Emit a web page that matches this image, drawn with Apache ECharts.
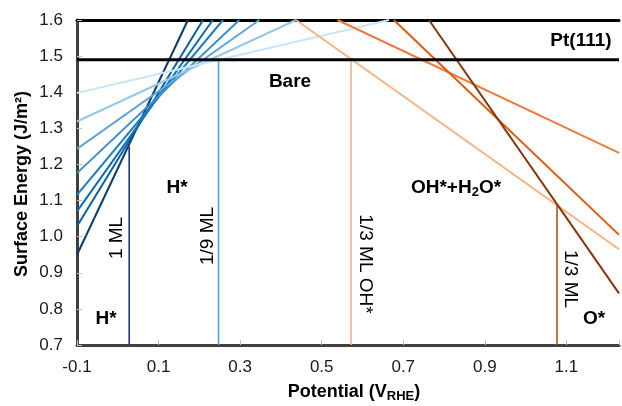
<!DOCTYPE html>
<html>
<head>
<meta charset="utf-8">
<script src="https://cdn.jsdelivr.net/npm/echarts@6/dist/echarts.min.js"></script>
<style>
  html, body { margin: 0; padding: 0; background: #fff; }
  #chart { width: 622px; height: 406px; }
</style>
</head>
<body>
<div id="chart"></div>
<script>
// axis range
const xMin = -0.1
const xMax = 1.229
const yMin = 0.7
const yMax = 1.6

// H* coverage lines: value at U = -0.1 and potential where they reach 1.6
const hCoverage = ['1', '7/9', '2/3', '5/9', '4/9', '1/3', '2/9', '1/9']
const hStartY = [0.950, 1.029, 1.070, 1.116, 1.176, 1.243, 1.319, 1.398]
const hEndX = [0.172, 0.209, 0.233, 0.258, 0.298, 0.347, 0.437, 0.665]

// oxygenated lines: potential where they leave 1.6 and value at the right edge
const oxyNames = ['1/3 ML OH*', 'OH* 2', 'OH* 3', '1/3 ML O*']
const oxyStartX = [0.437, 0.539, 0.677, 0.763]
const oxyEndY = [0.965, 1.232, 1.005, 0.843]

// bare Pt(111)
const bareEnergy = 1.49

// phase boundaries
const boundaryX = [0.028, 0.247, 0.572, 1.077]
const boundaryTopY = [1.25, 1.49, 1.49, 1.09]

const hColors = ['#0b3d6b', '#0a60a6', '#0b6db9', '#1b7dc5', '#3b8fcd', '#5fa6da', '#95c7ea', '#cae5f7']
const oxyColors = ['#fdb27e', '#ef7b3a', '#e7580c', '#8a3409']
const boundaryColors = ['#1f3a7a', '#44a7e5', '#f9b07a', '#b0501d']

const font = 'Liberation Sans, Arial, sans-serif'

const chart = echarts.init(document.getElementById('chart'))

const series = []

hCoverage.forEach((c, i) => {
  series.push({
    name: c + ' ML H*',
    type: 'line',
    symbol: 'none',
    silent: true,
    data: [[xMin, hStartY[i]], [hEndX[i], yMax]],
    lineStyle: { color: hColors[i], width: 2 },
    z: 3
  })
})

oxyNames.forEach((n, i) => {
  series.push({
    name: n,
    type: 'line',
    symbol: 'none',
    silent: true,
    data: [[oxyStartX[i], yMax], [xMax, oxyEndY[i]]],
    lineStyle: { color: oxyColors[i], width: 2 },
    z: 3
  })
})

boundaryX.forEach((x, i) => {
  series.push({
    type: 'line',
    symbol: 'none',
    silent: true,
    data: [[x, yMin], [x, boundaryTopY[i]]],
    lineStyle: { color: boundaryColors[i], width: 1.6 },
    z: 2
  })
})

series.push({
  name: 'Pt(111)',
  type: 'line',
  symbol: 'none',
  silent: true,
  clip: false,
  data: [[xMin, bareEnergy], [xMax, bareEnergy]],
  lineStyle: { color: '#000', width: 3 },
  z: 5
})

function txt(x, y, text, opts) {
  return Object.assign({
    type: 'text',
    x: x,
    y: y,
    z: 10,
    style: Object.assign({
      text: text,
      font: '17px ' + font,
      fill: '#000',
      textAlign: 'center',
      textVerticalAlign: 'middle'
    }, opts && opts.style)
  }, opts && opts.el)
}

const plain = '19px ' + font
const boldW = 'bold 19px ' + font
const subRich = {
  s: { fontSize: 13, fontWeight: 'bold', fontFamily: font, verticalAlign: 'bottom', lineHeight: 12 }
}

const option = {
  animation: false,
  backgroundColor: '#fff',
  grid: { left: 77, right: 0, top: 20, bottom: 61 },
  xAxis: [{
    type: 'value',
    min: xMin,
    max: xMax,
    interval: 0.2,
    axisLine: { onZero: false, lineStyle: { color: '#404040', width: 3 } },
    axisTick: { inside: true, length: 5, lineStyle: { color: '#bfbfbf', width: 1 } },
    axisLabel: {
      fontSize: 17,
      fontFamily: font,
      color: '#1a1a1a',
      margin: 14,
      formatter: v => {
        const k = (v - xMin) / 0.2
        return Math.abs(k - Math.round(k)) < 1e-6 ? v.toFixed(1) : ''
      }
    },
    splitLine: { show: false }
  }, {
    type: 'value',
    position: 'top',
    min: xMin,
    max: xMax,
    axisLine: { onZero: false, lineStyle: { color: '#000', width: 3 } },
    axisTick: { show: false },
    axisLabel: { show: false },
    splitLine: { show: false }
  }],
  yAxis: {
    type: 'value',
    min: yMin,
    max: yMax,
    interval: 0.1,
    axisLine: { show: true, onZero: false, lineStyle: { color: '#404040', width: 3 } },
    axisTick: { show: true, inside: true, length: 5, lineStyle: { color: '#bfbfbf', width: 1 } },
    axisLabel: {
      fontSize: 17,
      fontFamily: font,
      color: '#1a1a1a',
      margin: 14,
      formatter: v => v.toFixed(1)
    },
    splitLine: { show: false }
  },
  series: series,
  graphic: [
    // axis titles
    txt(22, 184, 'Surface Energy (J/m²)', { style: { font: 'bold 18px ' + font }, el: { rotation: Math.PI / 2 } }),
    txt(354, 392, 'Potential (V{s|RHE})', { style: { font: 'bold 18px ' + font, rich: subRich, lineHeight: 22 } }),
    // region labels
    txt(581, 41, 'Pt(111)', { style: { font: boldW } }),
    txt(290, 82, 'Bare', { style: { font: boldW } }),
    txt(177, 188, 'H*', { style: { font: boldW } }),
    txt(106, 319, 'H*', { style: { font: boldW } }),
    txt(456, 188, 'OH*+H{s|2}O*', { style: { font: boldW, rich: subRich, lineHeight: 22 } }),
    txt(594, 319, 'O*', { style: { font: boldW } }),
    // coverage labels
    txt(117, 238, '1 ML', { style: { font: plain }, el: { rotation: Math.PI / 2 } }),
    txt(208, 236, '1/9 ML', { style: { font: plain }, el: { rotation: Math.PI / 2 } }),
    txt(365, 264, '1/3 ML OH*', { style: { font: plain }, el: { rotation: -Math.PI / 2 } }),
    txt(570, 279, '1/3 ML', { style: { font: plain }, el: { rotation: -Math.PI / 2 } })
  ]
}

chart.setOption(option)
</script>
</body>
</html>
